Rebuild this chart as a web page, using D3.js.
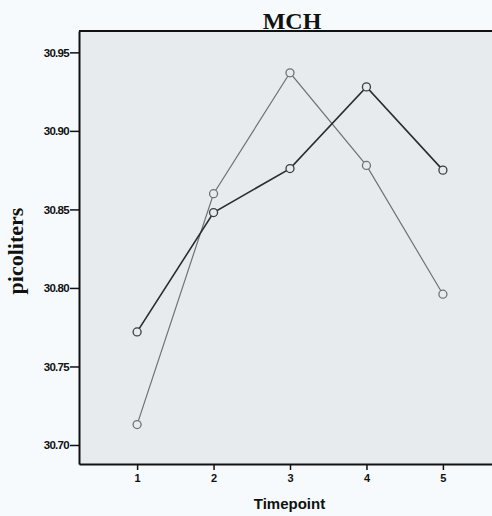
<!DOCTYPE html>
<html>
<head>
<meta charset="utf-8">
<script src="https://cdn.jsdelivr.net/npm/d3@7/dist/d3.min.js"></script>
<style>
  html, body { margin: 0; padding: 0; background: #f6fafc; overflow: hidden; }
  svg { display: block; }
</style>
</head>
<body>
<script>
const timepoints = [1, 2, 3, 4, 5];
const seriesA = [30.772, 30.848, 30.876, 30.928, 30.875];
const seriesB = [30.713, 30.860, 30.937, 30.878, 30.796];
const yTicks = [30.70, 30.75, 30.80, 30.85, 30.90, 30.95];
const title = "MCH";
const xLabel = "Timepoint";
const yLabel = "picoliters";

const W = 492, H = 516;
const margin = { left: 79, top: 31, right: -9, bottom: 52 };

const svg = d3.select("body").append("svg").attr("width", W).attr("height", H);

const x = d3.scaleLinear().domain([0.24, 5.76]).range([margin.left, W - margin.right]);
const y = d3.scaleLinear().domain([30.6879, 30.9636]).range([H - margin.bottom, margin.top]);

const x0 = margin.left, y0 = margin.top, y1 = H - margin.bottom;

// plot background (clipped at the page edge, as in the scan)
svg.append("rect")
  .attr("x", x0).attr("y", y0)
  .attr("width", W - x0).attr("height", y1 - y0)
  .attr("fill", "#e7ebed");
// top frame line
svg.append("line")
  .attr("x1", x0).attr("x2", W).attr("y1", y0).attr("y2", y0)
  .attr("stroke", "#111").attr("stroke-width", 2);

// axes
const yAxis = d3.axisLeft(y).tickValues(yTicks).tickFormat(d3.format(".2f"))
  .tickSize(9).tickSizeOuter(0).tickPadding(1);
const gy = svg.append("g").attr("transform", `translate(${x0},0)`).call(yAxis);
gy.select(".domain").attr("stroke", "#111").attr("stroke-width", 2);
gy.selectAll(".tick line").attr("stroke", "#111").attr("stroke-width", 1.5);
gy.selectAll(".tick text")
  .attr("font-family", "'Liberation Sans', Arial, sans-serif")
  .attr("font-size", 11.5).attr("font-weight", "bold").attr("letter-spacing", "-0.7px")
  .attr("fill", "#111");

const xAxis = d3.axisBottom(x).tickValues(timepoints).tickFormat(d3.format("d"))
  .tickSize(6).tickSizeOuter(0).tickPadding(4);
const gx = svg.append("g").attr("transform", `translate(0,${y1})`).call(xAxis);
gx.select(".domain").attr("stroke", "#111").attr("stroke-width", 2);
gx.selectAll(".tick line").attr("stroke", "#111").attr("stroke-width", 1.5);
gx.selectAll(".tick text")
  .attr("font-family", "'Liberation Sans', Arial, sans-serif")
  .attr("font-size", 11).attr("font-weight", "bold")
  .attr("fill", "#111");

// lines
const line = d3.line().x((d, i) => x(timepoints[i])).y(d => y(d));

svg.append("path").datum(seriesB)
  .attr("d", line).attr("fill", "none")
  .attr("stroke", "#6e7274").attr("stroke-width", 1.2);
svg.append("path").datum(seriesA)
  .attr("d", line).attr("fill", "none")
  .attr("stroke", "#2a2d2f").attr("stroke-width", 1.6);

function markers(data, color) {
  svg.append("g").selectAll("circle").data(data).join("circle")
    .attr("cx", (d, i) => x(timepoints[i]))
    .attr("cy", d => y(d))
    .attr("r", 4)
    .attr("fill", "#e7ebed")
    .attr("stroke", color).attr("stroke-width", 1.3);
}
markers(seriesB, "#6e7274");
markers(seriesA, "#3a3d3f");

// title
svg.append("text")
  .attr("x", 292).attr("y", 29)
  .attr("text-anchor", "middle")
  .attr("font-family", "'Liberation Serif', 'Times New Roman', serif")
  .attr("font-weight", "bold").attr("font-size", 24)
  .attr("fill", "#111")
  .text(title);

// x label
svg.append("text")
  .attr("x", 289.5).attr("y", 509)
  .attr("text-anchor", "middle")
  .attr("font-family", "'Liberation Sans', Arial, sans-serif")
  .attr("font-weight", "bold").attr("font-size", 15)
  .attr("fill", "#111")
  .text(xLabel);

// y label
svg.append("text")
  .attr("transform", "translate(22.5,251) rotate(-90)")
  .attr("text-anchor", "middle")
  .attr("font-family", "'Liberation Serif', 'Times New Roman', serif")
  .attr("font-weight", "bold").attr("font-size", 22)
  .attr("fill", "#111")
  .text(yLabel);
</script>
</body>
</html>
